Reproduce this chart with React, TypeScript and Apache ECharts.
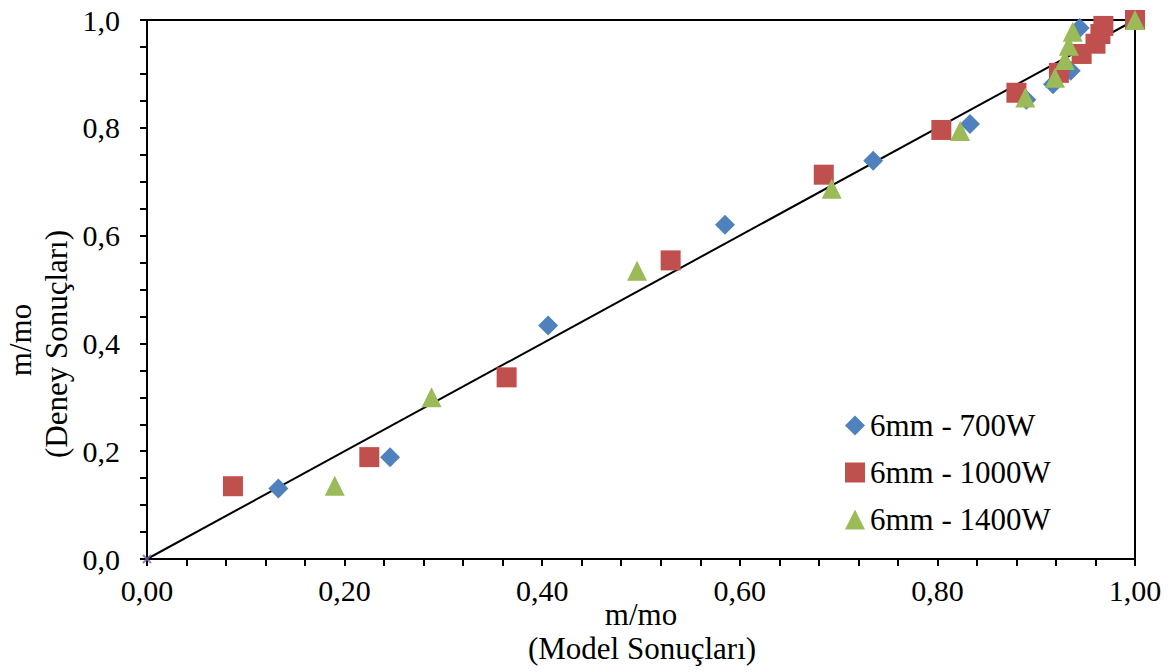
import React, { useEffect, useRef } from "react";
import * as echarts from "echarts";

// Series 6mm - 700W
const model700 = [0.133, 0.246, 0.406, 0.585, 0.735, 0.833, 0.890, 0.917, 0.935, 0.944, 1.0];
const deney700 = [0.131, 0.189, 0.433, 0.620, 0.739, 0.807, 0.852, 0.881, 0.906, 0.985, 1.0];
// Series 6mm - 1000W
const model1000 = [0.087, 0.225, 0.364, 0.530, 0.685, 0.804, 0.880, 0.923, 0.946, 0.960, 0.965, 0.968, 1.0];
const deney1000 = [0.135, 0.189, 0.337, 0.554, 0.713, 0.796, 0.865, 0.902, 0.937, 0.956, 0.974, 0.989, 1.0];
// Series 6mm - 1400W
const model1400 = [0.190, 0.288, 0.496, 0.693, 0.823, 0.889, 0.919, 0.929, 0.933, 0.937, 1.0];
const deney1400 = [0.136, 0.300, 0.535, 0.687, 0.794, 0.856, 0.893, 0.926, 0.952, 0.978, 1.0];
// Reference line y = x
const refLineX = [0, 1];
const refLineY = [0, 1];

const seriesNames = ["6mm - 700W", "6mm - 1000W", "6mm - 1400W"];
const xTickLabels = ["0,00", "0,20", "0,40", "0,60", "0,80", "1,00"];
const yTickLabels = ["0,0", "0,2", "0,4", "0,6", "0,8", "1,0"];

const FONT = "'Liberation Serif', 'Times New Roman', serif";

function pairs(xs: number[], ys: number[]) {
  return xs.map((x, i) => [x, ys[i]]);
}

export default function App() {
  const ref = useRef<HTMLDivElement>(null);
  useEffect(() => {
    if (!ref.current) return;
    const chart = echarts.init(ref.current, undefined, { renderer: "svg" });
    const axisCommon = {
      type: "value" as const,
      min: 0,
      max: 1,
      interval: 0.2,
      axisLine: { show: true, lineStyle: { color: "#000", width: 2 } },
      axisTick: { show: true, inside: false, length: 7, lineStyle: { color: "#000", width: 2 } },
      minorTick: { show: true, length: 7, lineStyle: { color: "#000", width: 2 } },
      splitLine: { show: false },
      minorSplitLine: { show: false },
    };
    chart.setOption({
      animation: false,
      backgroundColor: "#fff",
      grid: {
        left: 147,
        right: 40,
        top: 20,
        bottom: 113,
        show: true,
        borderColor: "#000",
        borderWidth: 2,
        backgroundColor: "transparent",
      },
      xAxis: {
        ...axisCommon,
        minorTick: { ...axisCommon.minorTick, splitNumber: 5 },
        axisLabel: {
          margin: 16,
          fontFamily: FONT,
          fontSize: 30,
          color: "#000",
          formatter: (v: number) => xTickLabels[Math.round(v * 5)] ?? "",
        },
      },
      yAxis: {
        ...axisCommon,
        minorTick: { ...axisCommon.minorTick, splitNumber: 4 },
        axisLabel: {
          margin: 27,
          fontFamily: FONT,
          fontSize: 30,
          color: "#000",
          formatter: (v: number) => yTickLabels[Math.round(v * 5)] ?? "",
        },
      },
      legend: {
        orient: "vertical",
        left: 840,
        top: 405,
        itemWidth: 20,
        itemHeight: 20,
        itemGap: 16,
        textStyle: { fontFamily: FONT, fontSize: 31, color: "#000" },
        data: [
          { name: seriesNames[0], icon: "diamond" },
          { name: seriesNames[1], icon: "rect" },
          { name: seriesNames[2], icon: "triangle" },
        ],
      },
      graphic: [
        {
          type: "text",
          x: 641,
          y: 614,
          style: { text: "m/mo", font: `31px ${FONT}`, fill: "#000", align: "center", verticalAlign: "middle" },
        },
        {
          type: "text",
          x: 642,
          y: 648,
          style: { text: "(Model Sonuçları)", font: `31px ${FONT}`, fill: "#000", align: "center", verticalAlign: "middle" },
        },
        {
          type: "text",
          x: 20,
          y: 340,
          rotation: Math.PI / 2,
          style: { text: "m/mo", font: `31px ${FONT}`, fill: "#000", align: "center", verticalAlign: "middle" },
        },
        {
          type: "text",
          x: 56,
          y: 344,
          rotation: Math.PI / 2,
          style: { text: "(Deney Sonuçları)", font: `31px ${FONT}`, fill: "#000", align: "center", verticalAlign: "middle" },
        },
      ],
      series: [
        {
          type: "line",
          name: "ref",
          data: pairs(refLineX, refLineY),
          symbol: "none",
          lineStyle: { color: "#000", width: 2 },
          z: 2,
        },
        {
          type: "scatter",
          name: "origin",
          data: [[refLineX[0], refLineY[0]]],
          symbol: "path://M0 0L10 10M10 0L0 10",
          symbolSize: 8,
          itemStyle: { color: "#8064A2", borderColor: "#8064A2", borderWidth: 2 },
          z: 3,
        },
        {
          type: "scatter",
          name: seriesNames[0],
          data: pairs(model700, deney700),
          symbol: "diamond",
          symbolSize: 20,
          itemStyle: { color: "#4F81BD", opacity: 1 },
          z: 4,
        },
        {
          type: "scatter",
          name: seriesNames[1],
          data: pairs(model1000, deney1000),
          symbol: "rect",
          symbolSize: 20,
          itemStyle: { color: "#C0504D", opacity: 1 },
          z: 5,
        },
        {
          type: "scatter",
          name: seriesNames[2],
          data: pairs(model1400, deney1400),
          symbol: "triangle",
          symbolSize: 20,
          itemStyle: { color: "#9BBB59", opacity: 1 },
          z: 6,
        },
      ],
    });
    return () => chart.dispose();
  }, []);
  return <div ref={ref} style={{ width: 1175, height: 672, position: "absolute", left: 0, top: 0 }} />;
}
